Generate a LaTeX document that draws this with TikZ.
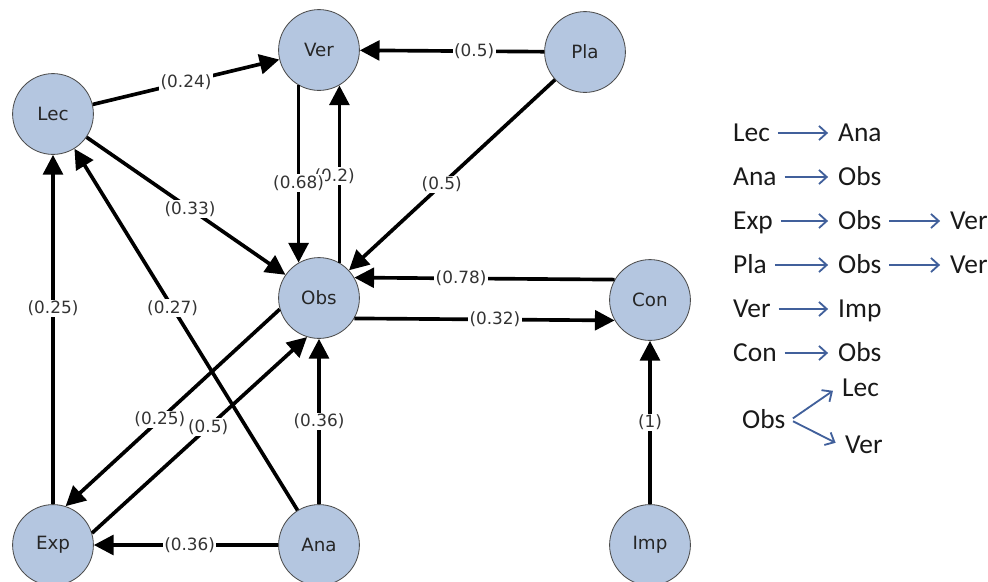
\documentclass[tikz,border=0pt]{standalone}
\usepackage{fontspec}
\setmainfont{DejaVu Sans}
\newfontfamily\legendfont{Carlito}
\usepackage{xcolor}
\usetikzlibrary{arrows.meta}

\definecolor{nodeblue}{RGB}{180,198,224}
\definecolor{legblue}{RGB}{65,96,155}

\begin{document}
\begin{tikzpicture}[x=0.025cm, y=-0.025cm,
    state/.style={circle, draw=black!70, line width=0.6pt, fill=nodeblue, minimum size=2.02cm, inner sep=0pt, font=\fontsize{13}{15}\selectfont, text=black!85},
    link/.style={-{Triangle[length=14pt,width=14pt]}, line width=2.6pt},
    weight/.style={fill=white, inner sep=1pt, font=\fontsize{12}{14}\selectfont, text=black!80},
    legword/.style={anchor=west, font=\legendfont\fontsize{19.5}{23}\selectfont, text=black!90, inner sep=3.5pt, text height=12.6pt, text depth=0pt},
    legarrow/.style={-{Straight Barb[length=5.5pt,width=10pt]}, legblue, line width=1.3pt, shorten <=2pt, shorten >=3.5pt}]
    \useasboundingbox (0,0) rectangle (988,581);

    % States
    \node[state] (lec) at (53,114) {Lec};
    \node[state] (ver) at (319,50) {Ver};
    \node[state] (pla) at (585,52) {Pla};
    \node[state] (obs) at (319,298) {Obs};
    \node[state] (con) at (650,300) {Con};
    \node[state] (exp) at (53,545) {Exp};
    \node[state] (ana) at (319,545) {Ana};
    \node[state] (imp) at (650,545) {Imp};

    % Transitions with weights
    \draw[link] (lec) -- node[weight, pos=0.5] {(0.24)} (ver);
    \draw[link] (pla) -- node[weight, pos=0.38] {(0.5)} (ver);
    \draw[link] (pla) -- node[weight, pos=0.55] {(0.5)} (obs);
    \draw[link] (obs.60) -- node[weight, pos=0.49, xshift=-0.12cm] {(0.2)} (ver.300);
    \draw[link] (ver.240) -- node[weight, pos=0.55] {(0.68)} (obs.120);
    \draw[link] (lec) -- node[weight, pos=0.52] {(0.33)} (obs);
    \draw[link] (exp) -- node[weight, pos=0.56] {(0.25)} (lec);
    \draw[link] (ana) -- node[weight, pos=0.56] {(0.27)} (lec);
    \draw[link] (obs.196) -- node[weight, pos=0.56] {(0.25)} (exp.72);
    \draw[link] (exp.17) -- node[weight, pos=0.54] {(0.5)} (obs.253);
    \draw[link] (ana) -- node[weight] {(0.36)} (obs);
    \draw[link] (ana) -- node[weight, pos=0.48] {(0.36)} (exp);
    \draw[link] (con.150) -- node[weight, pos=0.59] {(0.78)} (obs.30);
    \draw[link] (obs.-30) -- node[weight, pos=0.54] {(0.32)} (con.210);
    \draw[link] (imp) -- node[weight] {(1)} (con);

    % Paths listed on the right
    \node[legword] (la1) at (728,133) {Lec};
    \node[legword] (lb1) at (833,133) {Ana};
    \draw[legarrow] (la1.east) -- (lb1.west);

    \node[legword] (la2) at (728,177) {Ana};
    \node[legword] (lb2) at (833,177) {Obs};
    \draw[legarrow] (la2.east) -- (lb2.west);

    \node[legword] (la3) at (728,221) {Exp};
    \node[legword] (lb3) at (833,221) {Obs};
    \node[legword] (lc3) at (945,221) {Ver};
    \draw[legarrow] (la3.east) -- (lb3.west);
    \draw[legarrow] (lb3.east) -- (lc3.west);

    \node[legword] (la4) at (728,265) {Pla};
    \node[legword] (lb4) at (833,265) {Obs};
    \node[legword] (lc4) at (945,265) {Ver};
    \draw[legarrow] (la4.east) -- (lb4.west);
    \draw[legarrow] (lb4.east) -- (lc4.west);

    \node[legword] (la5) at (728,309) {Ver};
    \node[legword] (lb5) at (833,309) {Imp};
    \draw[legarrow] (la5.east) -- (lb5.west);

    \node[legword] (la6) at (728,353) {Con};
    \node[legword] (lb6) at (833,353) {Obs};
    \draw[legarrow] (la6.east) -- (lb6.west);

    % Obs splits in two
    \node[legword] (fobs) at (737,420) {Obs};
    \node[legword] (flec) at (837,388) {Lec};
    \node[legword] (fver) at (840,445) {Ver};
    \draw[legarrow] (fobs.east) -- (flec.west);
    \draw[legarrow] (fobs.east) -- (fver.west);
\end{tikzpicture}
\end{document}
